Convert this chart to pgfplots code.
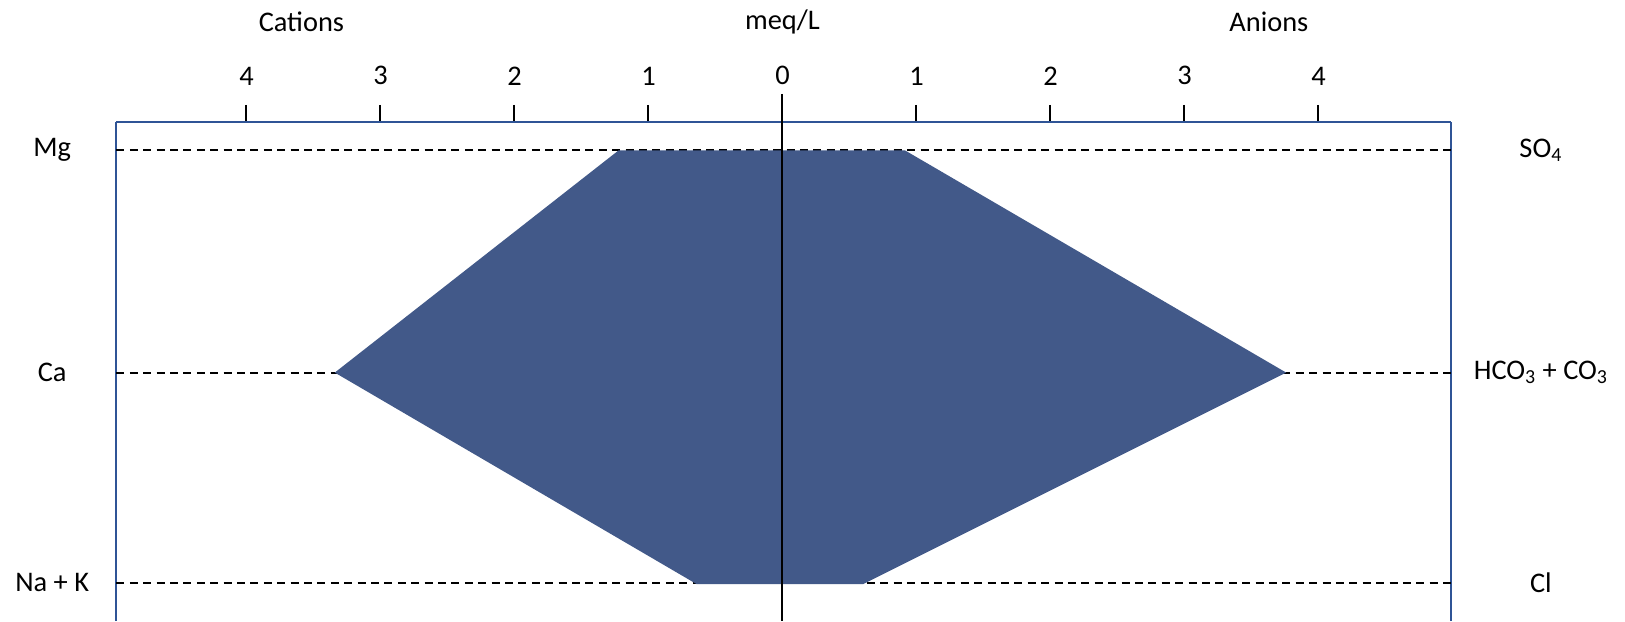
\documentclass[border=0pt]{standalone}
\usepackage{fontspec}
\setmainfont{Carlito}
\usepackage{pgfplots}
\pgfplotsset{compat=1.18}
\definecolor{fillc}{RGB}{66,89,137}
\definecolor{framec}{RGB}{47,84,150}
\begin{document}
\fontsize{14.2pt}{17pt}\selectfont
\begin{tikzpicture}
\begin{axis}[
  at={(-333pt,0pt)}, anchor=south west,
  scale only axis, width=667.32pt, height=249.5pt,
  xmin=-4.97, xmax=4.99, ymin=0, ymax=499,
  axis x line*=top, axis y line*=box,
  axis line style={framec, line width=1pt},
  xtick={-4,-3,-2,-1,0,1,2,3,4}, xticklabels={4,3,2,1,0,1,2,3,4},
  ytick=\empty,
  tick align=outside, major tick length=8.5pt,
  every tick/.style={black, line width=1pt},
  xticklabel style={font=\fontsize{14.2pt}{17pt}\selectfont, yshift=5pt},
  /pgf/number format/assume math mode=true,
  clip=false,
]
\addplot[black, line width=1pt, dash pattern=on 4pt off 2.7pt] coordinates {(-4.97,470.7) (4.99,470.7)};
\addplot[black, line width=1pt, dash pattern=on 4pt off 2.7pt] coordinates {(-4.97,248.4) (4.99,248.4)};
\addplot[black, line width=1pt, dash pattern=on 4pt off 2.7pt] coordinates {(-4.97,38.5) (4.99,38.5)};
\addplot[fill=fillc, draw=none] coordinates {(-1.222,470.7) (0.913,470.7) (3.759,248.4) (0.603,37) (-0.642,37) (-3.341,248.4)} -- cycle;
\addplot[black, line width=1pt] coordinates {(0,527) (0,0)};
\node at (axis cs:-5.45,470.7) {Mg};
\node at (axis cs:-5.45,248.4) {Ca};
\node at (axis cs:-5.45,38.5) {Na + K};
\node at (axis cs:5.66,470.7) {SO\textsubscript{4}};
\node at (axis cs:5.66,248.4) {HCO\textsubscript{3} + CO\textsubscript{3}};
\node at (axis cs:5.66,38.5) {Cl};
\node at (axis cs:-3.59,599) {Cations};
\node at (axis cs:0,599) {meq/L};
\node at (axis cs:3.63,599) {Anions};
\end{axis}
\pgfresetboundingbox
\useasboundingbox (-391.25pt,0pt) rectangle (421.25pt,310.5pt);
\end{tikzpicture}
\end{document}
